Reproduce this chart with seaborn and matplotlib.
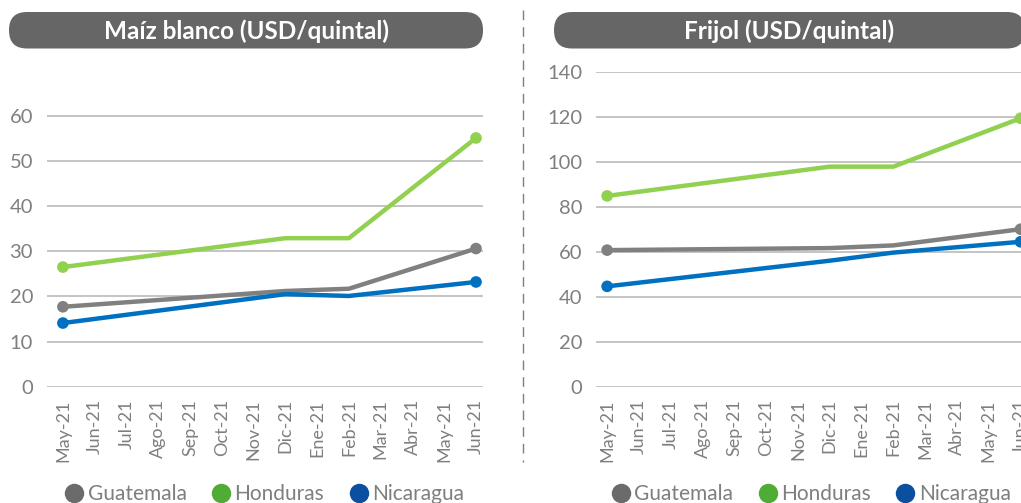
import pandas as pd
import seaborn as sns
import matplotlib.pyplot as plt
from matplotlib.patches import FancyBboxPatch
from matplotlib.lines import Line2D

# datos (solo hay observaciones en algunos meses)
meses = ['May-21', 'Jun-21', 'Jul-21', 'Ago-21', 'Sep-21', 'Oct-21', 'Nov-21',
         'Dic-21', 'Ene-21', 'Feb-21', 'Mar-21', 'Abr-21', 'May-21', 'Jun-21']
paises = ['Guatemala', 'Honduras', 'Nicaragua']

maiz_guatemala = [17.7, None, None, None, None, None, None, 21.2, None, 21.7, None, None, None, 30.6]
maiz_honduras = [26.5, None, None, None, None, None, None, 32.9, None, 32.9, None, None, None, 55.1]
maiz_nicaragua = [14.1, None, None, None, None, None, None, 20.5, None, 20.1, None, None, None, 23.2]

frijol_guatemala = [60.7, None, None, None, None, None, None, 61.6, None, 62.8, None, None, None, 70.0]
frijol_honduras = [84.8, None, None, None, None, None, None, 97.8, None, 97.8, None, None, None, 119.3]
frijol_nicaragua = [44.6, None, None, None, None, None, None, 56.0, None, 59.6, None, None, None, 64.4]

colores_linea = {'Guatemala': '#808080', 'Honduras': '#92D050', 'Nicaragua': '#0070C0'}
colores_leyenda = {'Guatemala': '#6b6b6b', 'Honduras': '#4fac34', 'Nicaragua': '#0b50a0'}
gris_texto = '#7f7f7f'


def armar_df(series):
    filas = []
    for pais, valores in zip(paises, series):
        for i, v in enumerate(valores):
            if v is not None:
                filas.append({'pos': i, 'pais': pais, 'valor': v})
    return pd.DataFrame(filas)


df_maiz = armar_df([maiz_guatemala, maiz_honduras, maiz_nicaragua])
df_frijol = armar_df([frijol_guatemala, frijol_honduras, frijol_nicaragua])

sns.set_theme(style='white')
plt.rcParams['font.family'] = ['Lato', 'DejaVu Sans']

W, H = 1021, 503
fig = plt.figure(figsize=(W / 100, H / 100), dpi=100)

# capa de fondo en pixeles para cajas de titulo y separador
bg = fig.add_axes([0, 0, 1, 1])
bg.set_xlim(0, W)
bg.set_ylim(H, 0)
bg.axis('off')


def panel(df, rect, xlim, ylim, yticks, titulo, caja):
    ax = fig.add_axes(rect)
    sns.lineplot(data=df, x='pos', y='valor', hue='pais', palette=colores_linea,
                 linewidth=3.2, legend=False, ax=ax, clip_on=False)
    extremos = df[df['pos'].isin([df['pos'].min(), df['pos'].max()])]
    sns.scatterplot(data=extremos, x='pos', y='valor', hue='pais', palette=colores_linea,
                    s=70, edgecolor='none', legend=False, ax=ax, clip_on=False, zorder=5)
    ax.set_xlim(*xlim)
    ax.set_ylim(*ylim)
    ax.set_yticks(yticks)
    ax.set_xticks(range(len(meses)))
    ax.set_xticklabels(meses, rotation=90, fontsize=13, color=gris_texto)
    ax.tick_params(axis='y', labelsize=14.5, labelcolor=gris_texto, length=0, pad=10)
    ax.tick_params(axis='x', length=0, pad=9)
    ax.set_xlabel('')
    ax.set_ylabel('')
    ax.grid(axis='y', color='#bfbfbf', linewidth=1.3)
    ax.grid(axis='x', visible=False)
    for s in ax.spines.values():
        s.set_visible(False)

    x0, x1 = caja
    bg.add_patch(FancyBboxPatch((x0, 12), x1 - x0, 36.5,
                                boxstyle='round,pad=0,rounding_size=18',
                                facecolor='#666666', edgecolor='none'))
    bg.text((x0 + x1) / 2, 31, titulo, color='white', fontsize=17.5, fontweight='bold',
            ha='center', va='center')

    handles = [Line2D([], [], linestyle='none', marker='o', markersize=14,
                      markerfacecolor=colores_leyenda[p], markeredgecolor='none', label=p)
               for p in paises]
    ax.legend(handles=handles, loc='center', bbox_to_anchor=(0.5, -0.34), ncol=3,
              frameon=False, fontsize=15, labelcolor=gris_texto, handlelength=0.8,
              handletextpad=0.25, columnspacing=1.25)
    return ax


panel(df_maiz, [47 / W, 1 - 386.7 / H, 436 / W, 316 / H], (-0.5, 13.22), (0, 70),
      range(0, 61, 10), 'Maíz blanco (USD/quintal)', (9, 483))
panel(df_frijol, [596 / W, 1 - 386.7 / H, 431.5 / W, 315 / H], (-0.35, 13.22), (0, 140),
      range(0, 141, 20), 'Frijol (USD/quintal)', (554, 1025))

bg.plot([523, 523], [10, 462], color=gris_texto, linewidth=1, linestyle=(0, (7, 5)))

fig.savefig('out.png', dpi=100)
